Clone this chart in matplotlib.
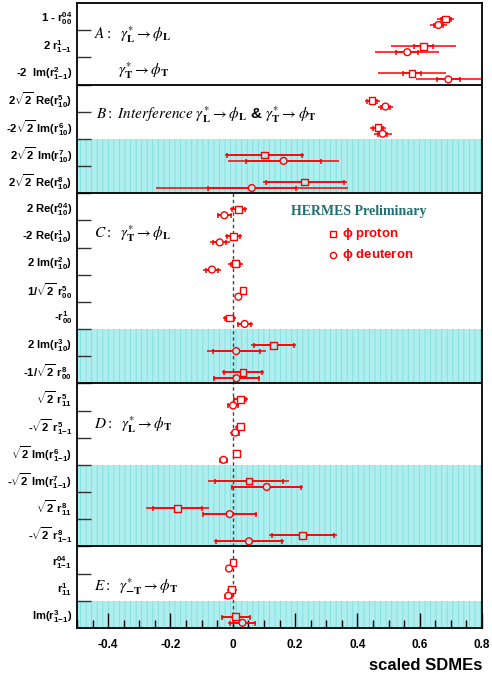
import numpy as np
import matplotlib
matplotlib.use("Agg")
import matplotlib.pyplot as plt
from matplotlib.ticker import MultipleLocator

plt.rcParams['font.family'] = ['Liberation Sans', 'DejaVu Sans']
plt.rcParams['mathtext.fontset'] = 'custom'
plt.rcParams['mathtext.rm'] = 'Liberation Sans:bold'
plt.rcParams['mathtext.bf'] = 'Liberation Sans:bold'
plt.rcParams['mathtext.it'] = 'Liberation Sans:bold'
plt.rcParams['hatch.linewidth'] = 0.6

# SDME names, top to bottom
sdme_labels = [
    r'1 - $\mathbf{r^{04}_{00}}$',
    r'2 $\mathbf{r^{1}_{1{-}1}}$',
    r'-2  Im($\mathbf{r^{2}_{1{-}1}}$)',
    r'2$\mathbf{\sqrt{2}}$ Re($\mathbf{r^{5}_{10}}$)',
    r'-2$\mathbf{\sqrt{2}}$ Im($\mathbf{r^{6}_{10}}$)',
    r'2$\mathbf{\sqrt{2}}$ Im($\mathbf{r^{7}_{10}}$)',
    r'2$\mathbf{\sqrt{2}}$ Re($\mathbf{r^{8}_{10}}$)',
    r'2 Re($\mathbf{r^{04}_{10}}$)',
    r'-2 Re($\mathbf{r^{1}_{10}}$)',
    r'2 Im($\mathbf{r^{2}_{10}}$)',
    r'1/$\mathbf{\sqrt{2}}$ $\mathbf{r^{5}_{00}}$',
    r'-$\mathbf{r^{1}_{00}}$',
    r'2 Im($\mathbf{r^{3}_{10}}$)',
    r'-1/$\mathbf{\sqrt{2}}$ $\mathbf{r^{8}_{00}}$',
    r'$\mathbf{\sqrt{2}}$ $\mathbf{r^{5}_{11}}$',
    r'-$\mathbf{\sqrt{2}}$ $\mathbf{r^{5}_{1{-}1}}$',
    r'$\mathbf{\sqrt{2}}$ Im($\mathbf{r^{6}_{1{-}1}}$)',
    r'-$\mathbf{\sqrt{2}}$ Im($\mathbf{r^{7}_{1{-}1}}$)',
    r'$\mathbf{\sqrt{2}}$ $\mathbf{r^{8}_{11}}$',
    r'-$\mathbf{\sqrt{2}}$ $\mathbf{r^{8}_{1{-}1}}$',
    r'$\mathbf{r^{04}_{1{-}1}}$',
    r'$\mathbf{r^{1}_{11}}$',
    r'Im($\mathbf{r^{3}_{1{-}1}}$)',
]

# proton: value, stat. error, total error
p_val = [0.684, 0.612, 0.575, 0.447, 0.466, 0.102, 0.231, 0.018, 0.002, 0.008, 0.033, -0.011,
         0.132, 0.033, 0.024, 0.024, 0.011, 0.052, -0.177, 0.225, 0.001, -0.003, 0.010]
p_stat = [0.015, 0.031, 0.030, 0.015, 0.015, 0.120, 0.125, 0.020, 0.020, 0.015, 0.005, 0.015,
          0.065, 0.060, 0.020, 0.012, 0.004, 0.110, 0.078, 0.100, 0.005, 0.010, 0.045]
p_tot = [0.027, 0.103, 0.110, 0.024, 0.025, 0.127, 0.135, 0.027, 0.027, 0.024, 0.006, 0.020,
         0.072, 0.067, 0.024, 0.016, 0.005, 0.130, 0.100, 0.110, 0.006, 0.015, 0.048]

# deuteron: value, stat. error, total error
d_val = [0.660, 0.560, 0.692, 0.490, 0.481, 0.163, 0.061, -0.027, -0.042, -0.067, 0.018, 0.038,
         0.011, 0.012, 0.001, 0.008, -0.030, 0.109, -0.010, 0.052, -0.012, -0.014, 0.031]
d_stat = [0.015, 0.036, 0.037, 0.015, 0.015, 0.121, 0.141, 0.020, 0.020, 0.020, 0.005, 0.020,
          0.076, 0.072, 0.015, 0.012, 0.012, 0.110, 0.085, 0.105, 0.005, 0.010, 0.040]
d_tot = [0.028, 0.103, 0.105, 0.025, 0.029, 0.178, 0.308, 0.025, 0.032, 0.029, 0.006, 0.026,
         0.095, 0.077, 0.018, 0.016, 0.015, 0.116, 0.087, 0.112, 0.006, 0.012, 0.045]

section_ends = [3, 7, 14, 20]          # rows where a new class starts
shaded_rows = [(5, 7), (12, 14), (17, 20), (22, 23)]

nrows = len(sdme_labels)
rows = np.arange(nrows)

fig = plt.figure(figsize=(4.92, 6.76), dpi=100)
ax = fig.add_axes([77 / 492, 1 - 628 / 676, 405 / 492, 625 / 676])

shade_col = '#aeeeee'
shaded = np.zeros(nrows, dtype=bool)
for y0, y1 in shaded_rows:
    ax.axhspan(y0, y1, facecolor=shade_col, edgecolor='#80dede', hatch='|||',
               linewidth=0, zorder=0)
    shaded[y0:y1] = True
bg = [shade_col if s else 'white' for s in shaded]

for y in section_ends:
    ax.axhline(y, color='black', lw=1.3, zorder=3)

ax.plot([0, 0], [7, nrows], color='#444444', lw=1.0, ls=(0, (2.5, 2)), zorder=1)

for val, stat, tot, off, mk in [(p_val, p_stat, p_tot, 0.59, 's'),
                                (d_val, d_stat, d_tot, 0.81, 'o')]:
    y = rows + off
    ax.errorbar(val, y, xerr=tot, fmt='none', ecolor='red', elinewidth=1.1, capsize=0, zorder=4)
    ax.errorbar(val, y, xerr=stat, fmt='none', ecolor='red', elinewidth=1.1,
                capsize=1.8, capthick=1.1, zorder=4)
    ax.scatter(val, y, marker=mk, s=24, facecolors=bg, edgecolors='red', linewidths=1.0, zorder=5)

ax.set_xlim(-0.5, 0.8)
ax.set_ylim(nrows, 0)

ax.set_xticks([-0.4, -0.2, 0, 0.2, 0.4, 0.6, 0.8])
ax.set_xticklabels(['-0.4', '-0.2', '0', '0.2', '0.4', '0.6', '0.8'], fontweight='bold', fontsize=8.5)
ax.xaxis.set_minor_locator(MultipleLocator(0.05))
ax.tick_params(axis='x', which='major', direction='in', length=11, width=1, pad=8)
ax.tick_params(axis='x', which='minor', direction='in', length=5.5, width=1)

ax.set_yticks(np.arange(1, nrows))
ax.set_yticklabels([])
ax.set_yticks(rows + 0.5, minor=True)
ax.set_yticklabels(sdme_labels, minor=True, fontsize=8.1, fontweight='bold')
ax.tick_params(axis='y', which='major', direction='in', length=10, width=1, color='#333333')
ax.tick_params(axis='y', which='minor', length=0, pad=3.5)

for s in ax.spines.values():
    s.set_linewidth(1.3)

# class annotations
kw = dict(fontsize=11, math_fontfamily='stix', va='center', ha='left', zorder=6)
ax.text(-0.446, 1.18, r'$\mathit{A{:}}\ \ \gamma^{*}_{\mathbf{L}}\rightarrow\phi_{\mathbf{L}}$', **kw)
ax.text(-0.369, 2.47, r'$\gamma^{*}_{\mathbf{T}}\rightarrow\phi_{\mathbf{T}}$', **kw)
ax.text(-0.438, 4.12, r'$\mathit{B{:}\ Interference}\ \gamma^{*}_{\mathbf{L}}\rightarrow\phi_{\mathbf{L}}$'
        r' & $\gamma^{*}_{\mathbf{T}}\rightarrow\phi_{\mathbf{T}}$', fontweight='bold', **kw)
ax.text(-0.445, 8.47, r'$\mathit{C{:}}\ \ \gamma^{*}_{\mathbf{T}}\rightarrow\phi_{\mathbf{L}}$', **kw)
ax.text(-0.445, 15.53, r'$\mathit{D{:}}\ \ \gamma^{*}_{\mathbf{L}}\rightarrow\phi_{\mathbf{T}}$', **kw)
ax.text(-0.445, 21.46, r'$\mathit{E{:}}\ \ \gamma^{*}_{\mathbf{-T}}\rightarrow\phi_{\mathbf{T}}$', **kw)

# legend
ax.text(0.403, 7.69, 'HERMES Preliminary', family='Liberation Serif', fontweight='bold',
        fontsize=10, color='#1f7070', ha='center', va='center')
ax.scatter([0.323], [8.5], marker='s', s=20, facecolors='white', edgecolors='red', linewidths=1.0)
ax.scatter([0.323], [9.27], marker='o', s=20, facecolors='white', edgecolors='red', linewidths=1.0)
ax.text(0.352, 8.5, r'$\phi$ proton', color='red', fontweight='bold', fontsize=9.5, va='center')
ax.text(0.352, 9.27, r'$\phi$ deuteron', color='red', fontweight='bold', fontsize=9.5, va='center')

fig.text(482 / 492, 1 - 665 / 676, 'scaled SDMEs', fontweight='bold', fontsize=12,
         ha='right', va='center')

fig.savefig('out.png', dpi=100)
